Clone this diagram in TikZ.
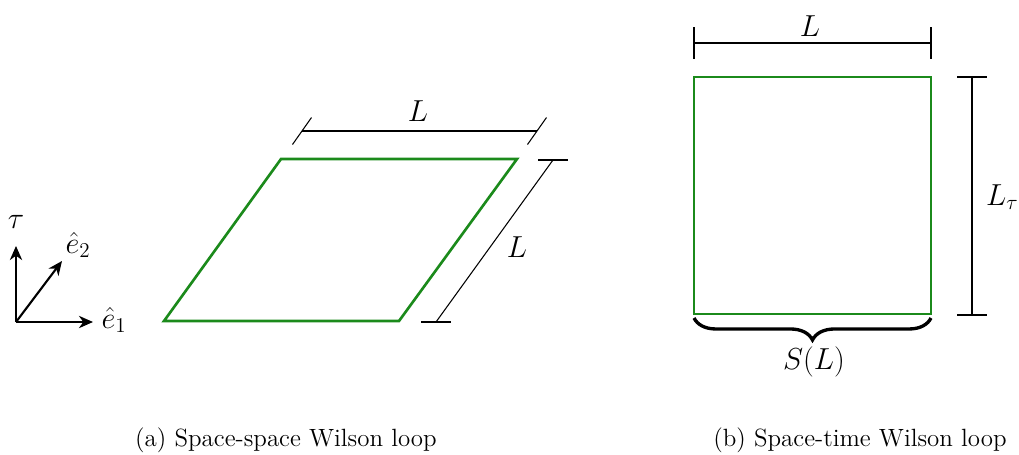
\documentclass[tikz,border=0pt]{standalone}
\usepackage{xcolor}
\usepackage{tikz}
\usepackage{amsmath}
\usetikzlibrary{arrows.meta,decorations.pathreplacing}
\definecolor{loopgreen}{HTML}{1b8a1b}

\begin{document}
\begin{tikzpicture}[x=0.02cm,y=-0.02cm,
  lbl/.style={font=\fontsize{17}{20}\selectfont},
  captext/.style={font=\fontsize{14.2}{17}\selectfont},
  wloop/.style={loopgreen,line width=1.5pt,line join=miter},
  dimline/.style={line width=0.6pt},
  axis/.style={line width=1.2pt,-{Stealth[length=8pt,width=7pt,inset=2.5pt]}}]
  \useasboundingbox (0,0) rectangle (1019,454);
  \coordinate (o) at (16,322);
  \coordinate (tau) at (16,246);
  \coordinate (eone) at (93,322);
  \coordinate (etwo) at (62,261);
  \draw[axis] (o) -- (tau);
  \draw[axis] (o) -- (eone);
  \draw[axis] (o) -- (etwo);
  \node[lbl] (taulab) at (16,222) {$\tau$};
  \node[lbl] (eonelab) at (114,320) {$\hat{e}_1$};
  \node[lbl] (etwolab) at (78,245) {$\hat{e}_2$};
  \coordinate (a1) at (164,321);
  \coordinate (a2) at (399,321);
  \coordinate (a3) at (517,159);
  \coordinate (a4) at (281,159);
  \draw[wloop] (a1) -- (a2) -- (a3) -- (a4) -- cycle;
  \coordinate (d1) at (302,131);
  \coordinate (d2) at (537,131);
  \draw[dimline] (d1) -- (d2);
  \draw[dimline] ([shift={(-9.5,13.5)}]d1) -- ([shift={(9.5,-13.5)}]d1);
  \draw[dimline] ([shift={(-9.5,13.5)}]d2) -- ([shift={(9.5,-13.5)}]d2);
  \node[lbl] (lena) at (418,111) {$L$};
  \coordinate (s1) at (436,322);
  \coordinate (s2) at (553,160);
  \draw[dimline] (s1) -- (s2);
  \draw[dimline] ([shift={(-15,0)}]s1) -- ([shift={(15,0)}]s1);
  \draw[dimline] ([shift={(-15,0)}]s2) -- ([shift={(15,0)}]s2);
  \node[lbl] (lenb) at (517,247) {$L$};
  \coordinate (b1) at (694,77);
  \coordinate (b2) at (931,314);
  \draw[wloop] (b1) rectangle (b2);
  \coordinate (t1) at (694,43);
  \coordinate (t2) at (931,43);
  \draw[dimline] (t1) -- (t2);
  \draw[dimline] ([shift={(0,-16)}]t1) -- ([shift={(0,16)}]t1);
  \draw[dimline] ([shift={(0,-16)}]t2) -- ([shift={(0,16)}]t2);
  \node[lbl] (lenc) at (810,26) {$L$};
  \coordinate (r1) at (972,77);
  \coordinate (r2) at (972,315);
  \draw[dimline] (r1) -- (r2);
  \draw[dimline] ([shift={(-15,0)}]r1) -- ([shift={(15,0)}]r1);
  \draw[dimline] ([shift={(-15,0)}]r2) -- ([shift={(15,0)}]r2);
  \node[lbl,anchor=west] (lentau) at (980,197) {$L_\tau$};
  \coordinate (c1) at (694,318);
  \coordinate (c2) at (931,318);
  \draw[line width=1.9pt,decorate,decoration={brace,mirror,amplitude=12.5pt}] (c1) -- (c2);
  \node[lbl] (sl) at (814,362) {$S(L)$};
  \node[captext] (capa) at (286,440) {(a) Space-space Wilson loop};
  \node[captext] (capb) at (860,440) {(b) Space-time Wilson loop};
\end{tikzpicture}
\end{document}
